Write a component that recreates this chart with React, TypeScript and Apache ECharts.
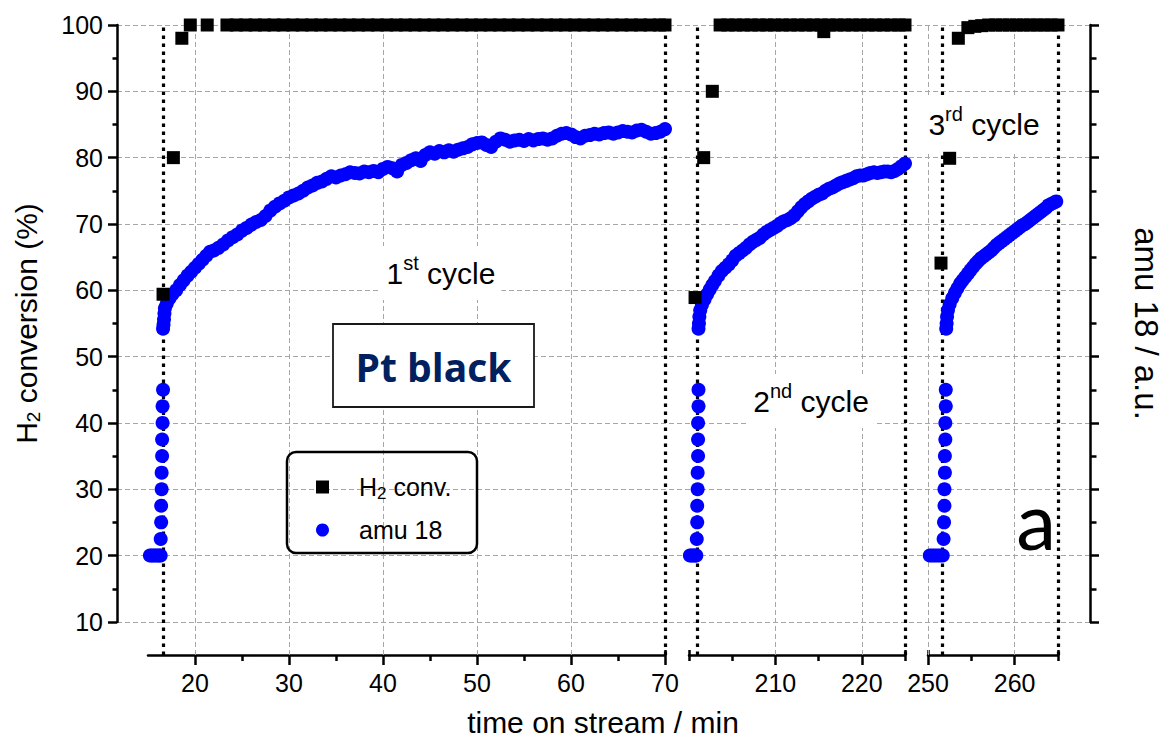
import { useEffect, useRef } from 'react';
import * as echarts from 'echarts';

const FONT = "'Liberation Sans', Arial, Helvetica, sans-serif";

// ---------- data ----------
const amu18Cycle1: [number, number][] = [
  [15.2, 20], [15.4, 20], [15.6, 20], [15.8, 20], [16.0, 20], [16.2, 20], [16.35, 20],
  [16.35, 22.5], [16.4, 25], [16.4, 27.5], [16.45, 30], [16.45, 32.5], [16.5, 35], [16.5, 37.5], [16.55, 40], [16.55, 42.5], [16.6, 45],
  [16.6, 54.2], [16.65, 54.8], [16.7, 55.6], [16.75, 56.5], [16.8, 57.3], [17.0, 58.0], [17.3, 58.8], [17.6, 59.4], [18.0, 60.0],
  [18.4, 60.8], [18.8, 61.5], [19.2, 62.2], [19.6, 62.8], [20.0, 63.4], [20.4, 64.0], [20.8, 64.6], [21.2, 65.2], [21.6, 65.8],
  [22.0, 66.0], [22.5, 66.4], [23.0, 66.9], [23.5, 67.5], [24.0, 68.0], [24.5, 68.4], [25.0, 69.0], [25.5, 69.4], [26.0, 69.9],
  [26.5, 70.3], [27.0, 70.6], [27.5, 71.2], [28.0, 72.0], [28.5, 72.6], [29.0, 73.1], [29.5, 73.5], [30.0, 74.0], [30.5, 74.3],
  [31.0, 74.6], [31.5, 75.0], [32.0, 75.5], [32.5, 75.8], [33.0, 76.2], [33.5, 76.4], [34.0, 76.8], [34.5, 77.2], [35.0, 77.0],
  [35.5, 77.3], [36.0, 77.5], [36.5, 77.8], [37.0, 77.7], [37.5, 77.6], [38.0, 77.9], [38.5, 77.8], [39.0, 78.0], [39.5, 77.8],
  [40.0, 78.3], [40.5, 78.6], [41.0, 78.4], [41.5, 77.9], [42.0, 78.9], [42.5, 79.2], [43.0, 79.6], [43.5, 79.9], [44.0, 79.5],
  [44.5, 80.4], [45.0, 80.8], [45.5, 80.6], [46.0, 81.0], [46.5, 80.8], [47.0, 81.1], [47.5, 80.9], [48.0, 81.2], [48.5, 81.4],
  [49.0, 81.6], [49.5, 82.0], [50.0, 82.2], [50.5, 82.3], [51.0, 81.9], [51.5, 81.6], [52.0, 82.4], [52.5, 82.9], [53.0, 82.7],
  [53.5, 82.4], [54.0, 82.6], [54.5, 82.7], [55.0, 82.5], [55.5, 82.8], [56.0, 82.6], [56.5, 82.8], [57.0, 82.9], [57.5, 82.7],
  [58.0, 82.9], [58.5, 83.3], [59.0, 83.6], [59.5, 83.7], [60.0, 83.5], [60.5, 83.1], [61.0, 82.9], [61.5, 83.3], [62.0, 83.4],
  [62.5, 83.6], [63.0, 83.5], [63.5, 83.7], [64.0, 83.8], [64.5, 83.6], [65.0, 83.8], [65.5, 84.0], [66.0, 83.9], [66.5, 83.8],
  [67.0, 84.1], [67.5, 84.2], [68.0, 83.9], [68.5, 83.6], [69.0, 83.7], [69.5, 83.9], [70.0, 84.3],
];

const amu18Cycle2: [number, number][] = [
  [200.1, 20], [200.3, 20], [200.5, 20], [200.7, 20], [200.85, 20],
  [200.9, 22.5], [200.95, 25], [200.95, 27.5], [201.0, 30], [201.0, 32.5], [201.05, 35], [201.05, 37.5], [201.05, 40], [201.1, 42.5], [201.1, 45],
  [201.1, 54.2], [201.15, 55.0], [201.2, 56.0], [201.3, 57.0], [201.5, 57.8], [201.8, 58.6], [202.1, 59.4], [202.4, 60.1],
  [202.7, 60.8], [203.0, 61.4], [203.4, 62.2], [203.8, 62.9], [204.2, 63.4], [204.6, 63.9], [205.0, 64.5], [205.4, 65.2],
  [205.8, 65.6], [206.2, 66.0], [206.6, 66.4], [207.0, 66.9], [207.4, 67.3], [207.8, 67.6], [208.2, 67.9], [208.6, 68.4],
  [209.0, 68.8], [209.4, 69.1], [209.8, 69.4], [210.2, 69.7], [210.6, 70.1], [211.0, 70.4], [211.4, 70.6], [211.8, 70.9],
  [212.2, 71.3], [212.6, 71.9], [213.0, 72.5], [213.4, 73.0], [213.8, 73.4], [214.2, 73.8], [214.6, 74.1], [215.0, 74.4],
  [215.4, 74.6], [215.8, 75.0], [216.2, 75.3], [216.6, 75.5], [217.0, 75.8], [217.4, 76.1], [217.8, 76.3], [218.2, 76.5],
  [218.6, 76.7], [219.0, 76.9], [219.4, 77.2], [219.8, 77.3], [220.2, 77.3], [220.6, 77.5], [221.0, 77.7], [221.4, 77.8],
  [221.8, 77.7], [222.2, 77.8], [222.6, 77.9], [223.0, 77.9], [223.4, 77.8], [223.8, 78.0], [224.2, 78.3], [224.6, 78.7],
  [225.0, 79.1],
];

const amu18Cycle3: [number, number][] = [
  [250.2, 20], [250.5, 20], [250.8, 20], [251.1, 20], [251.4, 20], [251.7, 20],
  [251.8, 22.5], [251.85, 25], [251.9, 27.5], [251.9, 30], [251.95, 32.5], [251.95, 35], [252.0, 37.5], [252.0, 40], [252.05, 42.5], [252.05, 45],
  [252.1, 54.2], [252.15, 55.0], [252.2, 56.0], [252.3, 57.0], [252.5, 57.9], [252.8, 58.8], [253.1, 59.6], [253.4, 60.3],
  [253.7, 61.0], [254.0, 61.5], [254.3, 62.0], [254.6, 62.5], [254.9, 63.0], [255.2, 63.5], [255.5, 64.0], [255.8, 64.4],
  [256.1, 64.8], [256.4, 65.1], [256.7, 65.4], [257.0, 65.7], [257.3, 66.0], [257.6, 66.4], [257.9, 66.8], [258.2, 67.1],
  [258.5, 67.4], [258.8, 67.7], [259.1, 68.0], [259.4, 68.3], [259.7, 68.6], [260.0, 68.9], [260.3, 69.2], [260.6, 69.5],
  [260.9, 69.8], [261.2, 70.0], [261.5, 70.3], [261.8, 70.6], [262.1, 70.9], [262.4, 71.2], [262.7, 71.5], [263.0, 71.8],
  [263.3, 72.1], [263.6, 72.4], [263.9, 72.8], [264.2, 73.0], [264.5, 73.2], [264.8, 73.4],
];

const h2Cycle1: [number, number][] = [
  [16.6, 59.4], [17.7, 80], [18.6, 98], [19.5, 100], [21.3, 100],
  [23.4, 100], [24.4, 100], [25.4, 100], [26.4, 100], [27.4, 100], [28.4, 100], [29.4, 100], [30.4, 100], [31.4, 100],
  [32.4, 100], [33.4, 100], [34.4, 100], [35.4, 100], [36.4, 100], [37.4, 100], [38.4, 100], [39.4, 100], [40.4, 100],
  [41.4, 100], [42.4, 100], [43.4, 100], [44.4, 100], [45.4, 100], [46.4, 100], [47.4, 100], [48.4, 100], [49.4, 100],
  [50.4, 100], [51.4, 100], [52.4, 100], [53.4, 100], [54.4, 100], [55.4, 100], [56.4, 100], [57.4, 100], [58.4, 100],
  [59.4, 100], [60.4, 100], [61.4, 100], [62.4, 100], [63.4, 100], [64.4, 100], [65.4, 100], [66.4, 100], [67.4, 100],
  [68.4, 100], [69.4, 100], [70.0, 100],
];

const h2Cycle2: [number, number][] = [
  [200.7, 58.9], [201.7, 80], [202.7, 90],
  [203.6, 100], [204.5, 100], [205.4, 100], [206.3, 100], [207.2, 100], [208.1, 100], [209.0, 100], [209.9, 100],
  [210.8, 100], [211.7, 100], [212.6, 100], [213.5, 100], [214.4, 100], [215.3, 100], [215.6, 99.0], [216.2, 100],
  [217.1, 100], [218.0, 100], [218.9, 100], [219.8, 100], [220.7, 100], [221.6, 100], [222.5, 100], [223.4, 100],
  [224.3, 100], [225.0, 100],
];

const h2Cycle3: [number, number][] = [
  [251.5, 64.1], [252.5, 79.9], [253.5, 98],
  [254.6, 99.6], [255.4, 99.8], [256.2, 99.9], [257.0, 100], [257.8, 100], [258.6, 100], [259.4, 100], [260.2, 100],
  [261.0, 100], [261.8, 100], [262.6, 100], [263.4, 100], [264.2, 100], [265.0, 100],
];

// axis segments (broken time axis)
const segRanges: [number, number][] = [[15, 70], [200, 225], [250, 265]];
const segMajorTicks: number[][] = [[20, 30, 40, 50, 60, 70], [210, 220], [250, 260]];
const segMinorTicks: number[][] = [[25, 35, 45, 55, 65], [200, 205, 215, 225], [255, 265]];
const segBreakTicks: number[][] = [[70], [200, 225], [250, 265]];
const segLabels: number[][] = [[20, 30, 40, 50, 60, 70], [210, 220], [250, 260]];
const segGridLines: number[][] = [[20, 30, 40, 50, 60], [210, 220], [250, 260]];
const cycleBounds: number[][] = [[16.6, 70], [200.9, 225], [251.6, 265]];

// ---------- layout ----------
const segGrids = [
  { left: 148, width: 517 },
  { left: 689, width: 216 },
  { left: 928, width: 130 },
];

const BLACK = '#000';
const GRID_GRAY = '#a6a6a6';

function buildOption() {
  const grid: any[] = [
    { left: 117, top: 25, width: 973, height: 597, outerBoundsMode: 'none', containLabel: false },
  ];
  const xAxis: any[] = [{ gridIndex: 0, type: 'value', show: false, min: 0, max: 1 }];
  const yAxis: any[] = [
    {
      gridIndex: 0, type: 'value', position: 'left', min: 10, max: 100, interval: 10,
      axisLine: { show: true, onZero: false, lineStyle: { color: BLACK, width: 2.5 } },
      axisTick: { show: true, length: 9, lineStyle: { color: BLACK, width: 2.5 } },
      minorTick: { show: true, splitNumber: 2, length: 4.5, lineStyle: { color: BLACK, width: 2.5 } },
      axisLabel: { show: true, fontSize: 25, fontFamily: FONT, color: BLACK, margin: 14 },
      splitLine: { show: true, lineStyle: { color: GRID_GRAY, width: 1, type: [5, 3] } },
      name: 'H{sub|2} conversion (%)',
      nameLocation: 'middle', nameRotate: 90, nameGap: 74,
      nameTextStyle: {
        fontSize: 30, fontFamily: FONT, color: BLACK, lineHeight: 34,
        rich: { sub: { fontSize: 19, fontFamily: FONT, color: BLACK, lineHeight: 20, verticalAlign: 'bottom' } },
      },
    },
    {
      gridIndex: 0, type: 'value', position: 'right', min: 10, max: 100, interval: 10,
      axisLine: { show: true, onZero: false, lineStyle: { color: BLACK, width: 2.5 } },
      axisTick: { show: true, length: 9, lineStyle: { color: BLACK, width: 2.5 } },
      minorTick: { show: true, splitNumber: 2, length: 6.5, lineStyle: { color: BLACK, width: 2.5 } },
      axisLabel: { show: false },
      splitLine: { show: false },
      name: 'amu 18 / a.u.',
      nameLocation: 'middle', nameRotate: -90, nameGap: 40,
      nameTextStyle: { fontSize: 33, fontFamily: FONT, color: BLACK },
    },
  ];
  const series: any[] = [];
  const amu = [amu18Cycle1, amu18Cycle2, amu18Cycle3];
  const h2 = [h2Cycle1, h2Cycle2, h2Cycle3];

  segGrids.forEach((g, i) => {
    const gi = i + 1;
    grid.push({ left: g.left, top: 25, width: g.width, height: 630, outerBoundsMode: 'none', containLabel: false });
    const [min, max] = segRanges[i];
    const mainIdx = xAxis.length;
    const tickLine = { color: BLACK, width: 2.5 };
    xAxis.push({
      gridIndex: gi, type: 'value', position: 'bottom', min, max,
      axisLine: { show: true, onZero: false, lineStyle: { color: BLACK, width: 2.5 } },
      axisTick: { show: true, customValues: segMajorTicks[i], length: 10, lineStyle: tickLine },
      axisLabel: { show: true, customValues: segLabels[i], fontSize: 25, fontFamily: FONT, color: BLACK, margin: 15 },
      splitLine: { show: false }, minorTick: { show: false }, minorSplitLine: { show: false },
    });
    xAxis.push({
      gridIndex: gi, type: 'value', position: 'bottom', min, max,
      axisLine: { show: false, onZero: false },
      axisTick: { show: true, customValues: segMinorTicks[i], length: 6, lineStyle: tickLine },
      axisLabel: { show: false }, splitLine: { show: false },
    });
    xAxis.push({
      gridIndex: gi, type: 'value', position: 'bottom', min, max,
      axisLine: { show: false, onZero: false },
      axisTick: { show: true, inside: true, customValues: segBreakTicks[i], length: 5, lineStyle: tickLine },
      axisLabel: { show: false }, splitLine: { show: false },
    });
    const yIdx = yAxis.length;
    yAxis.push({ gridIndex: gi, type: 'value', min: 5, max: 100, show: false });

    series.push({
      type: 'scatter', name: 'amu 18', xAxisIndex: mainIdx, yAxisIndex: yIdx,
      data: amu[i], symbol: 'circle', symbolSize: 14, clip: false, silent: true, z: 2,
      itemStyle: { color: '#0000ff', opacity: 1 },
      markLine: {
        silent: true, symbol: ['none', 'none'], z: 1, animation: false,
        label: { show: false }, emphasis: { disabled: true },
        data: [
          ...segGridLines[i].map((v) => ({ xAxis: v, lineStyle: { color: GRID_GRAY, width: 1, type: [5, 3] } })),
          ...cycleBounds[i].map((v) => ({ xAxis: v, lineStyle: { color: BLACK, width: 3.2, type: [3.5, 4.5] } })),
        ],
      },
    });
    series.push({
      type: 'scatter', name: 'H2 conv.', xAxisIndex: mainIdx, yAxisIndex: yIdx,
      data: h2[i], symbol: 'rect', symbolSize: 13, clip: false, silent: true, z: 3,
      itemStyle: { color: BLACK, opacity: 1 },
    });
  });

  const cycleText = (text: string, x: number, y: number) => ({
    type: 'text', x, y, z: 100, silent: true,
    style: {
      text, fontSize: 30, fontFamily: FONT, fill: BLACK, lineHeight: 40,
      align: 'center', verticalAlign: 'middle', textAlign: 'center', textVerticalAlign: 'middle',
      backgroundColor: '#fff', padding: [7, 6, 7, 6],
      rich: { sup: { fontSize: 20, fontFamily: FONT, fill: BLACK, lineHeight: 22, verticalAlign: 'top' } },
    },
  });

  return {
    animation: false,
    backgroundColor: '#fff',
    grid, xAxis, yAxis, series,
    legend: {
      show: true, orient: 'vertical', left: 316, top: 472, padding: 0, itemGap: 13,
      itemWidth: 13, itemHeight: 13, selectedMode: false,
      data: [{ name: 'H2 conv.', icon: 'rect' }, { name: 'amu 18', icon: 'circle' }],
      formatter: (n: string) => (n === 'H2 conv.' ? 'H{sub|2} conv.' : n),
      itemStyle: { borderWidth: 0 },
      textStyle: {
        fontSize: 25, fontFamily: FONT, color: BLACK, lineHeight: 30, padding: [0, 0, 0, 25],
        rich: { sub: { fontSize: 17, fontFamily: FONT, color: BLACK, lineHeight: 10, verticalAlign: 'bottom' } },
      },
    },
    graphic: {
      elements: [
        { type: 'rect', z: 100, silent: true, shape: { x: 287, y: 452, width: 190, height: 101, r: 9 }, style: { fill: 'none', stroke: BLACK, lineWidth: 2.5 } },
        { type: 'rect', z: 100, silent: true, shape: { x: 333, y: 324, width: 201, height: 83 }, style: { fill: '#fff', stroke: '#1a1a1a', lineWidth: 1.8 } },
        {
          type: 'text', x: 433.5, y: 366, z: 101, silent: true,
          style: {
            text: 'Pt black', fontSize: 39, fontWeight: 'bold', fontFamily: "'Open Sans', 'Noto Sans', sans-serif", fill: '#002060',
            align: 'center', verticalAlign: 'middle', textAlign: 'center', textVerticalAlign: 'middle',
          },
        },
        cycleText('1{sup|st} cycle', 441, 273),
        cycleText('2{sup|nd} cycle', 811, 401),
        cycleText('3{sup|rd} cycle', 984, 124),
        {
          type: 'text', x: 1036, y: 519, z: 100, silent: true,
          style: {
            text: 'a', fontSize: 80, fontFamily: "Lato, 'Open Sans', sans-serif", fill: BLACK,
            align: 'center', verticalAlign: 'middle', textAlign: 'center', textVerticalAlign: 'middle',
          },
        },
        {
          type: 'text', x: 603, y: 722, z: 100, silent: true,
          style: {
            text: 'time on stream / min', fontSize: 30, lineHeight: 30, fontFamily: FONT, fill: BLACK,
            align: 'center', verticalAlign: 'middle', textAlign: 'center', textVerticalAlign: 'middle',
          },
        },
      ],
    },
  };
}

export default function App() {
  const ref = useRef<HTMLDivElement>(null);
  useEffect(() => {
    if (!ref.current) return;
    const chart = echarts.init(ref.current, undefined, { renderer: 'svg' });
    chart.setOption(buildOption() as any);
    return () => {
      chart.dispose();
    };
  }, []);
  return (
    <div
      ref={ref}
      style={{ position: 'fixed', left: 0, top: 0, width: 1164, height: 740, background: '#fff' }}
    />
  );
}
